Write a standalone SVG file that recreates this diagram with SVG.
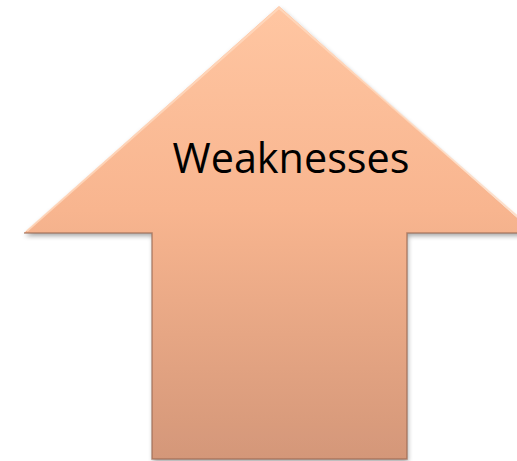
<svg xmlns="http://www.w3.org/2000/svg" width="517" height="461" viewBox="0 0 517 461">
<defs>
<linearGradient id="g" x1="0" y1="6" x2="0" y2="459" gradientUnits="userSpaceOnUse">
<stop offset="0" stop-color="#FFC6A2"/>
<stop offset="0.45" stop-color="#F8B58F"/>
<stop offset="1" stop-color="#D49779"/>
</linearGradient>
<filter id="sh" x="-10%" y="-10%" width="120%" height="120%">
<feGaussianBlur in="SourceAlpha" stdDeviation="2.5"/>
<feOffset dx="1" dy="3" result="b"/>
<feComponentTransfer><feFuncA type="linear" slope="0.35"/></feComponentTransfer>
<feMerge><feMergeNode/><feMergeNode in="SourceGraphic"/></feMerge>
</filter>
<style>
.lbl{font-family:"Open Sans","Liberation Sans",sans-serif;font-size:42px;fill:#000}
</style>
</defs>
<g id="arrow">
<path d="M279,6 L534,233 L407,233 L407,459 L152,459 L152,233 L24,233 Z" fill="url(#g)" filter="url(#sh)"/>
<path d="M24,233 L152,233 L152,459 L407,459 L407,233 L534,233" fill="none" stroke="#9A6A52" stroke-width="1.5" stroke-opacity="0.7"/>
<path d="M27,231 L279,8 L534,231" fill="none" stroke="#FFD9BF" stroke-width="2" stroke-opacity="0.8"/>
<text class="lbl" x="291" y="173" text-anchor="middle" textLength="237" lengthAdjust="spacingAndGlyphs">Weaknesses</text>
</g>
</svg>
